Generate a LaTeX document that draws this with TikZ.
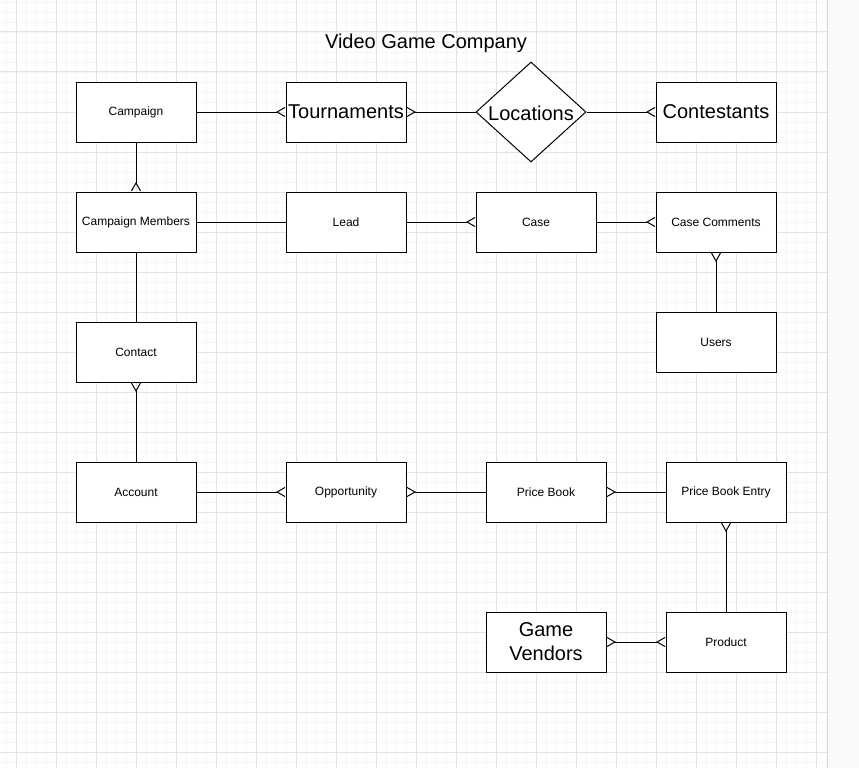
\documentclass[tikz,border=0pt]{standalone}
\usepackage{fontspec}
\setmainfont{Liberation Sans}
\usepackage{tikz}
\usetikzlibrary{arrows.meta, shapes.geometric}
\definecolor{gminor}{HTML}{F6F6F6}
\definecolor{gmajor}{HTML}{E3E3E3}
\definecolor{panel}{HTML}{F8F9FA}
\definecolor{panelline}{HTML}{DADCE0}

\tikzset{
  entity/.style={draw, line width=1pt, fill=white, rectangle, minimum width=120pt,
    minimum height=60pt, inner sep=0pt, font=\fontsize{12}{14}\selectfont},
  bigentity/.style={entity, font=\fontsize{20}{24}\selectfont, align=center},
  link/.style={line width=1pt},
  crowend/.style={link, -{Straight Barb[reversed, length=8pt, width=9pt]}},
  crowboth/.style={link, {Straight Barb[reversed, length=8pt, width=9pt]}-{Straight Barb[reversed, length=8pt, width=9pt]}}
}

\begin{document}
\begin{tikzpicture}[x=1pt, y=-1pt]
\useasboundingbox (0,0) rectangle (859,768);
% background grid and side panel
\fill[white] (0,0) rectangle (827,768);
\foreach \x in {6,16,...,826} \draw[gminor, line width=0.9pt] (\x,0) -- (\x,768);
\foreach \y in {2,12,...,762} \draw[gminor, line width=0.9pt] (0,\y) -- (827,\y);
\foreach \x in {16,56,...,816} \draw[gmajor, line width=1pt] (\x,0) -- (\x,768);
\foreach \y in {32,72,...,752} \draw[gmajor, line width=1pt] (0,\y) -- (827,\y);
\fill[panel] (827,0) rectangle (859,768);
\draw[panelline, line width=1pt] (827,0) -- (827,768);

\node[font=\fontsize{20}{24}\selectfont] (title) at (426,43) {Video Game Company};

% first row
\node[entity] (campaign) at (136,112) {Campaign};
\node[bigentity] (tournaments) at (346,112) {Tournaments};
\node[diamond, draw, line width=1pt, fill=white, minimum width=110pt, minimum height=100pt,
  inner sep=0pt] (locations) at (531,112) {};
\node[font=\fontsize{20}{24}\selectfont] (loctext) at (531,113) {Locations};
\node[bigentity] (contestants) at (716,112) {Contestants};

% second row
\node[entity] (members) at (136,222) {Campaign Members};
\node[entity] (lead) at (346,222) {Lead};
\node[entity] (case) at (536,222) {Case};
\node[entity] (comments) at (716,222) {Case Comments};
\node[entity] (users) at (716,342) {Users};
\node[entity] (contact) at (136,352) {Contact};

% lower rows
\node[entity] (account) at (136,492) {Account};
\node[entity] (opportunity) at (346,492) {Opportunity};
\node[entity] (pricebook) at (546,492) {Price Book};
\node[entity] (pbentry) at (726,492) {Price Book Entry};
\node[bigentity] (vendors) at (546,642) {Game\\Vendors};
\node[entity] (product) at (726,642) {Product};

% relations
\draw[crowend] (campaign.east) -- (tournaments.west);
\draw[crowend] (locations.west) -- (tournaments.east);
\draw[crowend] (locations.east) -- (contestants.west);
\draw[crowend] (campaign.south) -- (members.north);
\draw[link] (members.east) -- (lead.west);
\draw[crowend] (lead.east) -- (case.west);
\draw[crowend] (case.east) -- (comments.west);
\draw[crowend] (users.north) -- (comments.south);
\draw[link] (members.south) -- (contact.north);
\draw[crowend] (account.north) -- (contact.south);
\draw[crowend] (account.east) -- (opportunity.west);
\draw[crowend] (pricebook.west) -- (opportunity.east);
\draw[crowend] (pbentry.west) -- (pricebook.east);
\draw[crowend] (product.north) -- (pbentry.south);
\draw[crowboth] (vendors.east) -- (product.west);
\end{tikzpicture}
\end{document}
